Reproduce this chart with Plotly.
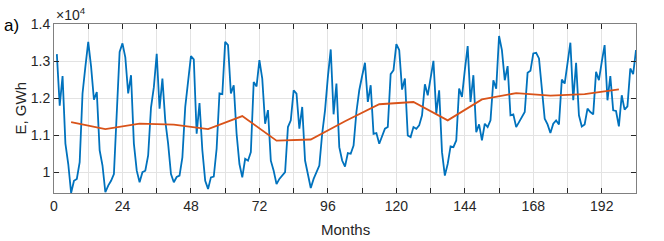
import plotly.graph_objects as go

months = list(range(1, 205))
energy = [
    13190, 11800, 12600, 10780, 10230, 9450, 9780, 9830, 10280, 12130, 12850, 13520,
    12850, 11960, 12170, 10600, 10190, 9470, 9650, 9780, 9960, 11850, 13250, 13480,
    13100, 12130, 12620, 10780, 10050, 9740, 10010, 10050, 10460, 11750, 12300, 13200,
    11720, 12530, 11400, 10780, 9960, 9740, 9880, 9920, 10410, 11770, 12500, 13135,
    13045, 11045, 11870, 10600, 9780, 9560, 9870, 9890, 10640, 12130, 12110, 13520,
    13430, 12130, 12350, 11045, 10230, 9870, 10370, 10320, 10550, 12440, 12320, 13030,
    12530, 11315, 11680, 10320, 10050, 9690, 9830, 9920, 10010, 11225, 11405, 12216,
    12126, 11180, 11766, 10324, 9964, 9586, 9829, 10009, 10189, 11045, 11676, 12577,
    13315, 11568, 12396, 10685, 10324, 10162, 10523, 10505, 10730, 11631, 12216, 12600,
    12955, 11901, 12351, 11045, 11063, 10775, 11000, 11180, 11225, 12649, 12757, 13460,
    13300, 12234, 12532, 11000, 10955, 11225, 11180, 11270, 11541, 12378, 12081, 12550,
    13009, 11586, 12216, 10550, 9919, 10234, 10703, 10685, 10865, 12261, 12036, 12757,
    13405, 11901, 12622, 11090, 11297, 10865, 11315, 11225, 11405, 12487, 12261, 13676,
    13297, 12487, 12865, 11541, 11568, 11225, 11360, 11496, 11631, 12685, 12739, 13207,
    13225, 13072, 12300, 11450, 11297, 11063, 11315, 11405, 11297, 12505, 12396, 12892,
    13496, 11946, 12955, 11541, 11243, 11297, 11721, 11631, 11568, 12712, 12487, 12982,
    13433, 11946, 12595, 11676, 11658, 11243, 12081, 11694, 11784, 12802, 12649, 13297,
]

trend_months = [6, 18, 30, 42, 54, 66, 78, 90, 102, 114, 126, 138, 150, 162, 174, 186, 198]
trend_values = [11360, 11170, 11320, 11290, 11170, 11520, 10860, 10890, 11380, 11840,
                11900, 11405, 11970, 12140, 12070, 12110, 12240]

x_tickvals = list(range(0, 205, 12))
x_ticktext = [str(v) if v % 24 == 0 else "" for v in x_tickvals]
y_tickvals = [10000, 11000, 12000, 13000, 14000]
y_ticktext = ["1", "1.1", "1.2", "1.3", "1.4"]

font_family = "Liberation Sans, Arial, sans-serif"
axis_color = "#262626"

fig = go.Figure()
fig.add_trace(go.Scatter(x=months, y=energy, mode="lines",
                         line=dict(color="#0072BD", width=1.8), showlegend=False))
fig.add_trace(go.Scatter(x=trend_months, y=trend_values, mode="lines",
                         line=dict(color="#D95319", width=1.8), showlegend=False))

fig.update_layout(
    width=664, height=241,
    margin=dict(l=54, r=28, t=24, b=48, autoexpand=False),
    paper_bgcolor="white", plot_bgcolor="white",
    font=dict(family=font_family, size=13, color=axis_color),
    xaxis=dict(range=[0, 204], tickvals=x_tickvals, ticktext=x_ticktext,
               showgrid=True, gridcolor="#e3e3e3", gridwidth=1,
               showline=True, linecolor="#808080", linewidth=1, mirror="ticks",
               ticks="inside", ticklen=5, tickcolor=axis_color,
               zeroline=False, automargin=False, tickfont=dict(size=14)),
    yaxis=dict(range=[9450, 14000], tickvals=y_tickvals, ticktext=y_ticktext,
               showgrid=True, gridcolor="#e3e3e3", gridwidth=1,
               showline=True, linecolor="#808080", linewidth=1, mirror="ticks",
               ticks="inside", ticklen=5, tickcolor=axis_color,
               zeroline=False, automargin=False, tickfont=dict(size=14)),
    annotations=[
        dict(text="Months", xref="paper", yref="paper", x=0.5, y=0,
             xanchor="center", yanchor="middle", showarrow=False,
             font=dict(size=15, color=axis_color), yshift=-36),
        dict(text="E, GWh", xref="paper", yref="paper", x=0, y=0.5,
             xanchor="center", yanchor="middle", showarrow=False, textangle=-90,
             font=dict(size=15, color=axis_color), xshift=-34),
        dict(text="×10<sup>4</sup>", xref="paper", yref="paper", x=0, y=1.0,
             xanchor="left", yanchor="bottom", showarrow=False,
             font=dict(size=14, color=axis_color), xshift=0, yshift=-1),
        dict(text="a)", xref="paper", yref="paper", x=0, y=1.0,
             xanchor="left", yanchor="bottom", showarrow=False,
             font=dict(size=17, color="black"), xshift=-52, yshift=-13),
    ],
)

fig.write_html("out.html", config={"displayModeBar": False},
               post_script="document.body.style.margin='0';document.body.style.overflow='hidden';")
